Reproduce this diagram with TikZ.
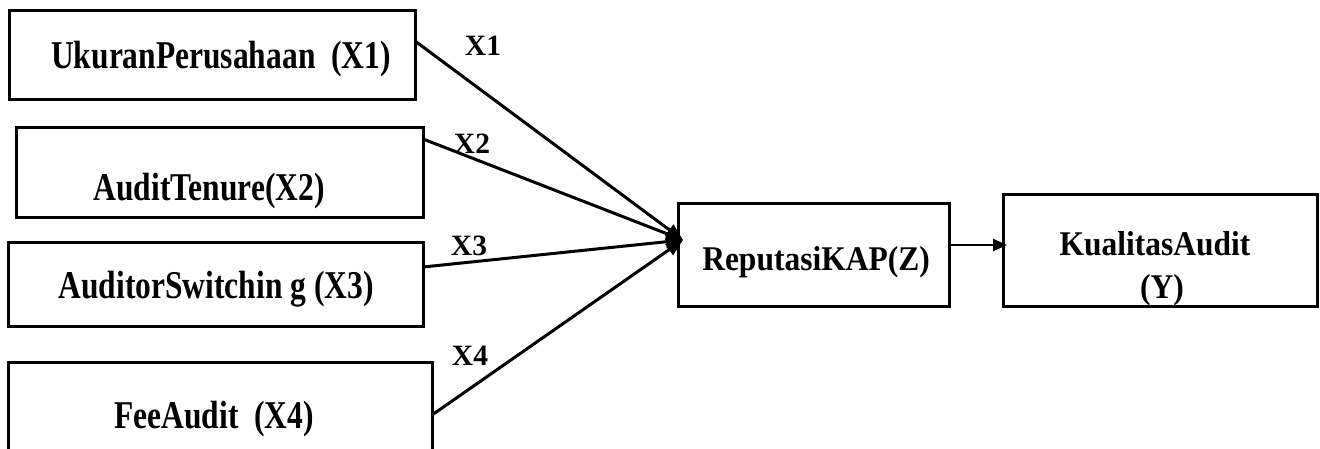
\documentclass[tikz,border=0pt]{standalone}
\usepackage{fontspec}
\setmainfont{Liberation Serif}
\usepackage{graphicx}
\usetikzlibrary{arrows.meta}
\newcommand{\tallbox}[1]{\scalebox{1}[1.25]{#1}}
\begin{document}
\begin{tikzpicture}[x=1pt,y=-1pt,
  boxst/.style={draw=black,line width=3pt,rectangle,inner sep=0pt,outer sep=0pt},
  boxtext/.style={inner sep=0pt,anchor=base,font=\bfseries\fontsize{31.5}{36}\selectfont},
  lbltext/.style={inner sep=0pt,anchor=base,font=\bfseries\fontsize{29.5}{34}\selectfont},
  inarrow/.style={line width=3pt,-{Triangle[length=17pt,width=13pt]}},
  outarrow/.style={line width=2.5pt,-{Triangle[length=14pt,width=12pt]}}]
\useasboundingbox (0,0) rectangle (1320,448);
\fill[white] (0,0) rectangle (1320,448);
% boxes
\node[boxst,minimum width=406pt,minimum height=89pt] (b1) at (212,54.5) {};
\node[boxst,minimum width=407pt,minimum height=90pt] (b2) at (219.5,172) {};
\node[boxst,minimum width=415pt,minimum height=84pt] (b3) at (215.5,284) {};
\node[boxst,minimum width=424pt,minimum height=88pt] (b4) at (220,406) {};
\node[boxst,minimum width=271pt,minimum height=103pt] (z) at (813.5,254.5) {};
\node[boxst,minimum width=314pt,minimum height=112pt] (y) at (1160,250) {};
% texts
\node[boxtext] (t1) at (221,68) {\tallbox{UkuranPerusahaan~~(X1)}};
\node[boxtext] (t2) at (209,200) {\tallbox{AuditTenure(X2)}};
\node[boxtext] (t3) at (216,298) {\tallbox{AuditorSwitchin g (X3)}};
\node[boxtext] (t4) at (214,428) {\tallbox{FeeAudit~~(X4)}};
\node[boxtext] (tz) at (816,270) {\scalebox{1}[1.1]{ReputasiKAP(Z)}};
\node[boxtext] (ty1) at (1155,255) {\scalebox{1}[1.1]{KualitasAudit}};
\node[boxtext] (ty2) at (1162,298) {\scalebox{1}[1.1]{(Y)}};
% labels
\node[lbltext] (l1) at (483,55) {X1};
\node[lbltext] (l2) at (472,153) {X2};
\node[lbltext] (l3) at (469,255) {X3};
\node[lbltext] (l4) at (470,365) {X4};
% connectors
\coordinate (tip) at ([xshift=5pt,yshift=14.5pt]z.west);
\draw[inarrow] ([yshift=13.5pt]b1.east) -- (tip);
\draw[inarrow] ([yshift=33pt]b2.east) -- (tip);
\draw[inarrow] ([yshift=17pt]b3.east) -- (tip);
\draw[inarrow] ([yshift=-9pt]b4.east) -- (tip);
\draw[outarrow] ([yshift=9.5pt]z.east) -- ([xshift=4pt,yshift=5pt]y.west);
\end{tikzpicture}
\end{document}
